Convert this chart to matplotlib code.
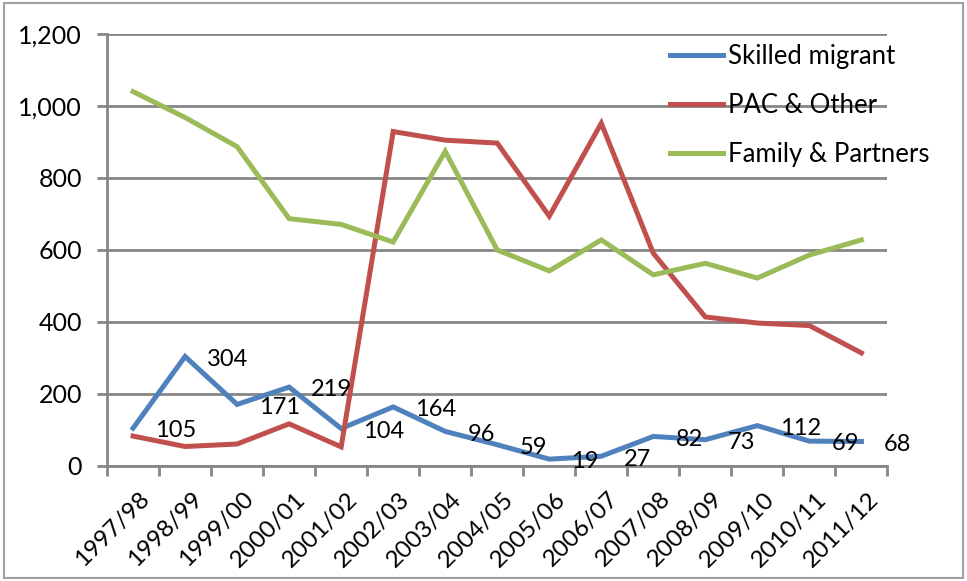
import numpy as np
import matplotlib.pyplot as plt
from matplotlib.patches import Rectangle
from matplotlib.transforms import ScaledTranslation

plt.rcParams['font.family'] = ['Lato', 'DejaVu Sans']

years = ['1997/98', '1998/99', '1999/00', '2000/01', '2001/02', '2002/03', '2003/04',
         '2004/05', '2005/06', '2006/07', '2007/08', '2008/09', '2009/10', '2010/11', '2011/12']
skilled = [105, 304, 171, 219, 104, 164, 96, 59, 19, 27, 82, 73, 112, 69, 68]
pac_other = [83, 54, 61, 117, 53, 929, 905, 897, 694, 952, 591, 414, 397, 390, 314]
family = [1040, 968, 887, 687, 671, 622, 874, 600, 542, 628, 531, 563, 522, 586, 628]

blue = '#4F81BD'
red = '#C0504D'
green = '#9BBB59'
grey = '#868686'

fig = plt.figure(figsize=(9.67, 5.81), dpi=100)
ax = fig.add_axes([0.1107, 0.198, 0.807, 0.7435])

x = np.arange(len(years))
ax.plot(x, skilled, color=blue, lw=3.6, label='Skilled migrant', solid_joinstyle='miter')
ax.plot(x, pac_other, color=red, lw=3.6, label='PAC & Other', solid_joinstyle='miter')
ax.plot(x, family, color=green, lw=3.6, label='Family & Partners', solid_joinstyle='miter')

# value labels sit to the right of each skilled migrant point
for xi, v in zip(x, skilled):
    ax.annotate(str(v), (xi, v), xytext=(16, -2), textcoords='offset points',
                ha='left', va='center', fontsize=17, color='black')

ax.set_xlim(-0.5, len(years) - 0.5)
ax.set_ylim(0, 1200)
ax.set_yticks(range(0, 1201, 200))
ax.set_yticklabels([f'{v:,}' for v in range(0, 1201, 200)], fontsize=18)
ax.yaxis.grid(True, color=grey, lw=2)
ax.set_axisbelow(True)

ax.set_xticks(np.arange(-0.5, len(years)), minor=False)
ax.set_xticklabels([])
ax.set_xticks(x, minor=True)
ax.set_xticklabels(years, minor=True, rotation=45, ha='right', va='top',
                   rotation_mode='anchor', fontsize=17.5)
ax.tick_params(axis='x', which='minor', length=0, pad=16)
ax.tick_params(axis='x', which='major', length=7, width=2, color=grey)
ax.tick_params(axis='y', length=7, width=2, color=grey, pad=11)

# nudge the slanted year labels a little to the right
shift = ScaledTranslation(6 / 100, 0, fig.dpi_scale_trans)
for lab in ax.get_xticklabels(minor=True):
    lab.set_transform(lab.get_transform() + shift)

for side in ['top', 'right']:
    ax.spines[side].set_visible(False)
for side in ['left', 'bottom']:
    ax.spines[side].set_color(grey)
    ax.spines[side].set_linewidth(2)

ax.legend(loc='upper left', bbox_to_anchor=(0.708, 1.0), borderaxespad=0,
          frameon=False, fontsize=18.5, handlelength=2.06, handletextpad=0.2,
          labelspacing=0.93)

fig.patches.append(Rectangle((0.004, 0.006), 0.992, 0.988, transform=fig.transFigure,
                             fill=False, edgecolor='#A0A0A0', lw=1.5))

fig.savefig('out.png', dpi=100)
